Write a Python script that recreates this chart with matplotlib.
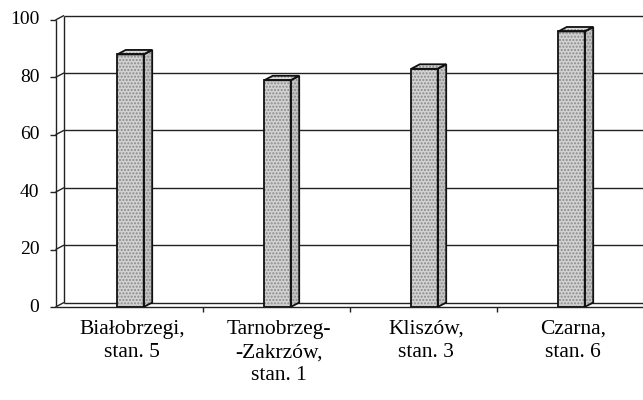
import matplotlib.pyplot as plt
from matplotlib.patches import Polygon

plt.rcParams['font.family'] = ['Liberation Serif', 'DejaVu Serif']

categories = ['Białobrzegi,\nstan. 5', 'Tarnobrzeg-\n-Zakrzów,\nstan. 1',
              'Kliszów,\nstan. 3', 'Czarna,\nstan. 6']
values = [88, 79, 83, 96]
yticks = [0, 20, 40, 60, 80, 100]

# depth of the pseudo-3D look, in data units
DX = 8.5 / 147
DY = 4.5 / 2.87
BW = 0.18

fig = plt.figure(figsize=(6.43, 4.0), dpi=100)
ax = fig.add_axes([55.5 / 643, 93 / 400, 588 / 643, 287 / 400])
ax.set_xlim(0, 4)
ax.set_ylim(0, 100)
ax.axis('off')

line_kw = dict(color='#222222', lw=1.0, clip_on=False, solid_capstyle='butt')
xr = 4.2

# back wall gridlines and side wall
for v in yticks:
    ax.plot([DX, xr], [v + DY, v + DY], **line_kw)
    ax.plot([0, DX], [v, v + DY], **line_kw)
    ax.plot([-0.04, 0], [v, v], **line_kw)
ax.plot([DX, DX], [DY, 100 + DY], **line_kw)
ax.plot([0, 0], [0, 100], **line_kw)
# front floor edge with category ticks
ax.plot([0, xr], [0, 0], **line_kw)
for i in range(1, 4):
    ax.plot([i, i], [0, -1.8], **line_kw)

# bars
for i, v in enumerate(values):
    x0 = i + 0.51 - BW / 2
    x1 = x0 + BW
    faces = [
        ([(x0, 0), (x1, 0), (x1, v), (x0, v)], '#d2d2d2'),
        ([(x1, 0), (x1 + DX, DY), (x1 + DX, v + DY), (x1, v)], '#c4c4c4'),
        ([(x0, v), (x1, v), (x1 + DX, v + DY), (x0 + DX, v + DY)], '#dadada'),
    ]
    for pts, fc in faces:
        ax.add_patch(Polygon(pts, closed=True, facecolor=fc, edgecolor='#8a8a8a',
                             lw=0, hatch='.....', zorder=3))
        ax.add_patch(Polygon(pts, closed=True, fill=False, edgecolor='#111111',
                             lw=1.3, joinstyle='miter', zorder=4))

# y tick labels
for v in yticks:
    ax.text(-0.11, v, str(v), ha='right', va='center', fontsize=14)

# category labels
for i, lab in enumerate(categories):
    ax.text(i + 0.5 + 0.02, -4.5, lab, ha='center', va='top', fontsize=15.5,
            linespacing=1.3)

fig.savefig('out.png', dpi=100)
